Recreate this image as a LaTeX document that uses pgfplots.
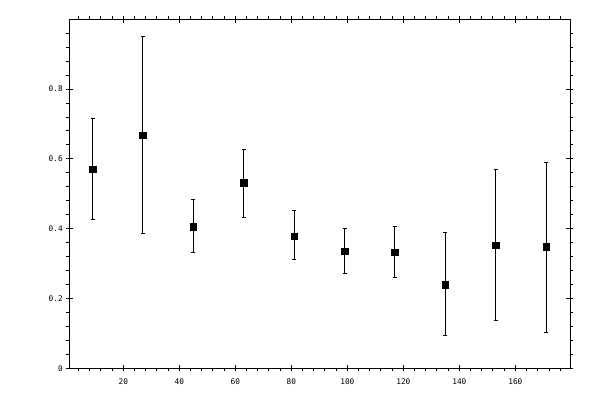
\documentclass[border=0pt]{standalone}
\usepackage{fontspec}
\setmonofont{DejaVu Sans Mono}
\usepackage{pgfplots}
\pgfplotsset{compat=1.18}
\pgfplotstableread{
x y ep em
9 0.570 0.146 0.144
27 0.668 0.283 0.283
45 0.406 0.079 0.075
63 0.531 0.097 0.098
81 0.379 0.072 0.068
99 0.336 0.066 0.065
117 0.333 0.072 0.074
135 0.239 0.150 0.146
153 0.353 0.218 0.217
171 0.348 0.243 0.246
}\datatable
\begin{document}
\begin{tikzpicture}
\useasboundingbox (-69.3bp,-31.7bp) rectangle (530.7bp,368.3bp);
\begin{axis}[
  at={(0,0)}, anchor=south west,
  scale only axis, width=500.7bp, height=349bp,
  xmin=0.7, xmax=179.5, ymin=0, ymax=1,
  xtick={20,40,...,160}, ytick={0,0.2,0.4,0.6,0.8},
  minor xtick={4,8,...,176}, minor ytick={0.04,0.08,...,0.97},
  tick align=outside, major tick length=3bp, minor tick length=3bp,
  extra x ticks={20,40,...,160}, extra x tick labels={},
  extra y ticks={0,0.2,0.4,0.6,0.8}, extra y tick labels={},
  extra tick style={tick align=inside, major tick length=3.7bp},
  tick style={black, line width=1bp},
  axis line style={line width=1bp},
  ticklabel style={font=\ttfamily\fontsize{7.8}{8}\selectfont},
  xticklabel style={yshift=-3.5bp},
  /pgf/number format/assume math mode=true,
]
\addplot[only marks, mark=square*, mark size=3.3bp, black,
  error bars/.cd, y dir=both, y explicit,
  error bar style={line width=1bp, black},
  error mark=-,
  error mark options={rotate=90, mark size=2bp, line width=1bp, black}]
  table[x=x, y=y, y error plus=ep, y error minus=em]{\datatable};
\end{axis}
\end{tikzpicture}
\end{document}
